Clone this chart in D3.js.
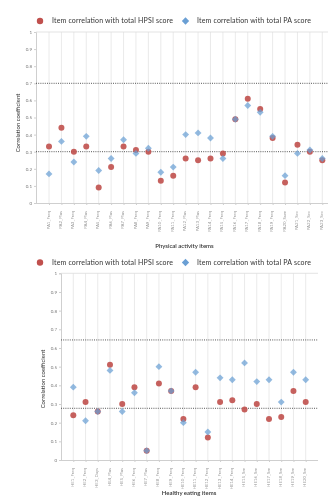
<!DOCTYPE html>
<html>
<head>
<meta charset="utf-8">
<script src="https://cdn.jsdelivr.net/npm/d3@7"></script>
<style>
  body { margin: 0; background: #fff; }
  svg { display: block; filter: blur(0.35px); }
</style>
</head>
<body>
<div id="chart"></div>
<script>
// data
var paItems = ['PA1_Freq','PA2_Plus','PA3_Freq','PA4_Plus','PA5_Freq','PA6_Plus','PA7_Plus','PA8_Freq',
  'PA9_Freq','PA10_Freq','PA11_Freq','PA12_Plus','PA13_Plus','PA14_Freq','PA15_Freq','PA16_Freq',
  'PA17_Freq','PA18_Freq','PA19_Freq','PA20_Sum','PA21_Sec','PA22_Sec','PA23_Sec'];
var paHpsi = [0.33,0.44,0.30,0.33,0.09,0.21,0.33,0.31,0.30,0.13,0.16,0.26,0.25,0.26,0.29,0.49,
  0.61,0.55,0.38,0.12,0.34,0.30,0.25];
var paTotal = [0.17,0.36,0.24,0.39,0.19,0.26,0.37,0.29,0.32,0.18,0.21,0.40,0.41,0.38,0.26,0.49,
  0.57,0.53,0.39,0.16,0.29,0.31,0.26];
var paRefLines = [0.7, 0.3];

var heItems = ['HE1_Freq','HE2_Freq','HE3_Days','HE4_Plus','HE5_Plus','HE6_Freq','HE7_Plus','HE8_Freq',
  'HE9_Freq','HE10_Freq','HE11_Freq','HE12_Freq','HE13_Freq','HE14_Freq','HE15_Sm','HE16_Sm',
  'HE17_Sm','HE18_Sm','HE19_Sm','HE20_Sm'];
var heHpsi = [0.24,0.31,0.26,0.51,0.30,0.39,0.05,0.41,0.37,0.22,0.39,0.12,0.31,0.32,0.27,0.30,
  0.22,0.23,0.37,0.31];
var heTotal = [0.39,0.21,0.26,0.48,0.26,0.36,0.05,0.50,0.37,0.20,0.47,0.15,0.44,0.43,0.52,0.42,
  0.43,0.31,0.47,0.43];
var heRefLines = [0.643, 0.277];

var yTicks = [0,0.1,0.2,0.3,0.4,0.5,0.6,0.7,0.8,0.9,1];
var legendLabels = ['Item correlation with total HPSI score', 'Item correlation with total PA score'];

var redCol = '#c0504d', blueCol = '#6a9fd4';
var font = 'Lato, "Open Sans", sans-serif';
var diamond = d3.symbolDiamond2 || d3.symbolDiamond;

var svg = d3.select('#chart').append('svg')
  .attr('width', 328).attr('height', 497);

function drawChart(o) {
  var g = svg.append('g');
  var x = d3.scalePoint().domain(o.items).range([o.x0, o.x1]);
  var y = d3.scaleLinear().domain([0, 1]).range([o.yBottom, o.yTop]);

  // legend
  var lg = g.append('g').attr('transform', 'translate(0,' + o.legendY + ')');
  lg.append('circle').attr('cx', 40).attr('cy', 0).attr('r', 3.2).attr('fill', redCol);
  lg.append('text').attr('x', 52).attr('y', 2.4).text(legendLabels[0])
    .attr('textLength', 121).style('font', '7px ' + font).style('fill', '#333');
  lg.append('path').attr('d', d3.symbol(diamond, 34)())
    .attr('transform', 'translate(185.5,0)').attr('fill', blueCol);
  lg.append('text').attr('x', 197).attr('y', 2.4).text(legendLabels[1])
    .attr('textLength', 114).style('font', '7px ' + font).style('fill', '#333');

  // vertical grid at each item
  g.append('g').selectAll('line').data(o.items).enter().append('line')
    .attr('x1', function (d) { return x(d); }).attr('x2', function (d) { return x(d); })
    .attr('y1', y(1)).attr('y2', y(0))
    .style('stroke', '#e4e4e4').style('stroke-width', 0.8);

  // top border
  g.append('line').attr('x1', o.axisX).attr('x2', o.right).attr('y1', y(1)).attr('y2', y(1))
    .style('stroke', '#dcdcdc').style('stroke-width', 0.8);

  // y axis
  var gy = g.append('g').attr('transform', 'translate(' + o.axisX + ',0)')
    .call(d3.axisLeft(y).tickValues(yTicks).tickSize(2).tickPadding(2).tickFormat(function (d) { return d; }));
  gy.select('.domain').style('stroke', '#cfcfcf');
  gy.selectAll('.tick line').style('stroke', '#cfcfcf');
  gy.selectAll('.tick text').style('font', '4.5px ' + font).style('fill', '#777');

  // x axis
  var gx = g.append('g').attr('transform', 'translate(0,' + y(0) + ')')
    .call(d3.axisBottom(x).tickSize(2).tickPadding(2));
  gx.select('.domain').attr('d', 'M' + o.axisX + ',0.5H' + o.right).style('stroke', '#cfcfcf');
  gx.selectAll('.tick line').style('stroke', '#cfcfcf');
  gx.selectAll('.tick text')
    .attr('transform', 'rotate(-90)')
    .attr('x', -8).attr('y', -1.5).attr('dy', '0.35em')
    .style('text-anchor', 'end')
    .style('font', '4.4px ' + font).style('fill', '#999');

  // dotted reference lines
  g.append('g').selectAll('line').data(o.refLines).enter().append('line')
    .attr('x1', o.axisX).attr('x2', o.right)
    .attr('y1', function (d) { return y(d); }).attr('y2', function (d) { return y(d); })
    .style('stroke', '#444').style('stroke-width', 0.9).style('stroke-dasharray', '1,1.2');

  // series
  g.append('g').selectAll('circle').data(o.hpsi).enter().append('circle')
    .attr('cx', function (d, i) { return x(o.items[i]); })
    .attr('cy', function (d) { return y(d); })
    .attr('r', 3).attr('fill', redCol).attr('fill-opacity', 0.9);
  g.append('g').selectAll('path').data(o.total).enter().append('path')
    .attr('d', d3.symbol(diamond, 30)())
    .attr('transform', function (d, i) { return 'translate(' + x(o.items[i]) + ',' + y(d) + ')'; })
    .attr('fill', blueCol).attr('fill-opacity', 0.72);

  // axis titles
  g.append('text').attr('transform', 'translate(' + o.yTitleX + ',' + o.yTitleY + ') rotate(-90)')
    .attr('text-anchor', 'middle').text('Correlation coefficient')
    .style('font', '6px ' + font).style('fill', '#333');
  g.append('text').attr('x', o.xTitleX).attr('y', o.xTitleY)
    .attr('text-anchor', 'middle').text(o.xTitle)
    .style('font', '600 6px ' + font).style('fill', '#333');
}

drawChart({
  items: paItems, hpsi: paHpsi, total: paTotal, refLines: paRefLines,
  x0: 49, x1: 322.3, yTop: 32, yBottom: 203, axisX: 36, right: 328,
  legendY: 21, yTitleX: 19.5, yTitleY: 123, xTitleX: 184.5, xTitleY: 247.5,
  xTitle: 'Physical activity items'
});
drawChart({
  items: heItems, hpsi: heHpsi, total: heTotal, refLines: heRefLines,
  x0: 73.3, x1: 305.7, yTop: 273.3, yBottom: 460, axisX: 61, right: 318,
  legendY: 262.5, yTitleX: 44.5, yTitleY: 379, xTitleX: 189, xTitleY: 494.5,
  xTitle: 'Healthy eating items'
});
</script>
</body>
</html>
